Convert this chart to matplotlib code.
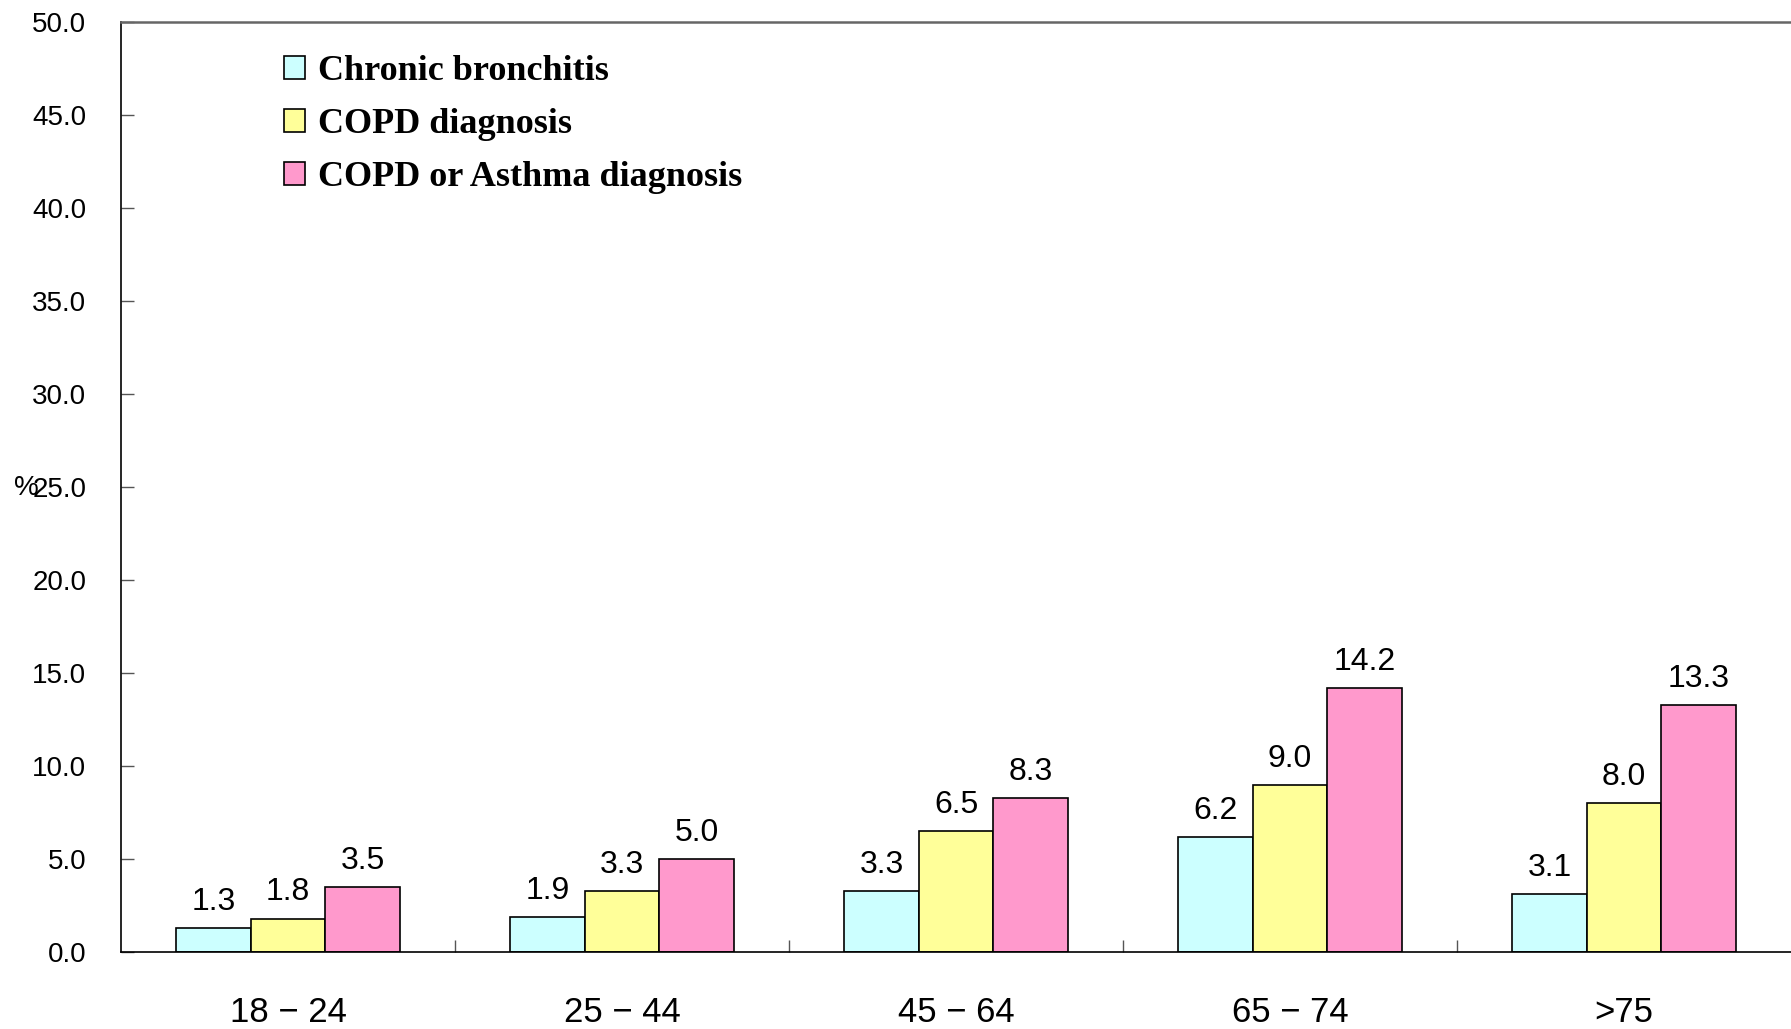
import matplotlib.pyplot as plt
import numpy as np

age_groups = ['18 \u2212 24', '25 \u2212 44', '45 \u2212 64', '65 \u2212 74', '>75']
series_names = ['Chronic bronchitis', 'COPD diagnosis', 'COPD or Asthma diagnosis']
chronic_bronchitis = [1.3, 1.9, 3.3, 6.2, 3.1]
copd_diagnosis = [1.8, 3.3, 6.5, 9.0, 8.0]
copd_or_asthma = [3.5, 5.0, 8.3, 14.2, 13.3]
colors = ['#CCFFFF', '#FFFF99', '#FF99CC']

fig = plt.figure(figsize=(17.91, 10.29), dpi=100)
ax = fig.add_axes([0.0676, 0.0748, 0.9324, 0.9038])

x = np.arange(len(age_groups))
width = 0.223
all_series = [chronic_bronchitis, copd_diagnosis, copd_or_asthma]
for i, (name, vals, col) in enumerate(zip(series_names, all_series, colors)):
    pos = x + (i - 1) * width
    bars = ax.bar(pos, vals, width, color=col, edgecolor='black', linewidth=1.2, label=name)
    for b, v in zip(bars, vals):
        ax.annotate(f'{v:.1f}', (b.get_x() + b.get_width() / 2, v),
                    xytext=(0, 8), textcoords='offset points',
                    ha='center', va='bottom', fontsize=23, family='Liberation Sans')

ax.set_xlim(-0.5, 4.5)
ax.set_ylim(0, 50)
ax.set_yticks(np.arange(0, 50.1, 5))
ax.set_yticklabels([f'{v:.1f}' for v in np.arange(0, 50.1, 5)],
                   fontsize=20, family='Liberation Sans')
ax.tick_params(axis='y', direction='in', length=9, width=1, color='#555555', pad=25)

ax.set_xticks(x)
ax.set_xticklabels(age_groups, fontsize=25, family='Liberation Sans')
ax.tick_params(axis='x', which='major', length=0, pad=32)
ax.set_xticks(np.arange(0.5, 4.5, 1), minor=True)
ax.tick_params(axis='x', which='minor', direction='in', length=9, width=1, color='#555555')

ax.spines['right'].set_visible(False)
ax.spines['top'].set_color('#666666')
ax.spines['top'].set_linewidth(1.8)
ax.spines['left'].set_linewidth(1.2)
ax.spines['bottom'].set_linewidth(1.2)

# "%" sits just left of the 25.0 tick label
fig.text(0.008, 1 - 488 / 1029, '%', fontsize=20, va='center', ha='left',
         family='Liberation Sans')

ax.legend(loc='upper left', bbox_to_anchor=(0.078, 0.999), frameon=False,
          prop={'family': 'Liberation Serif', 'weight': 'bold', 'size': 26},
          handlelength=0.6, handleheight=0.6, handletextpad=0.35, labelspacing=0.55)

fig.savefig('out.png', dpi=100)
